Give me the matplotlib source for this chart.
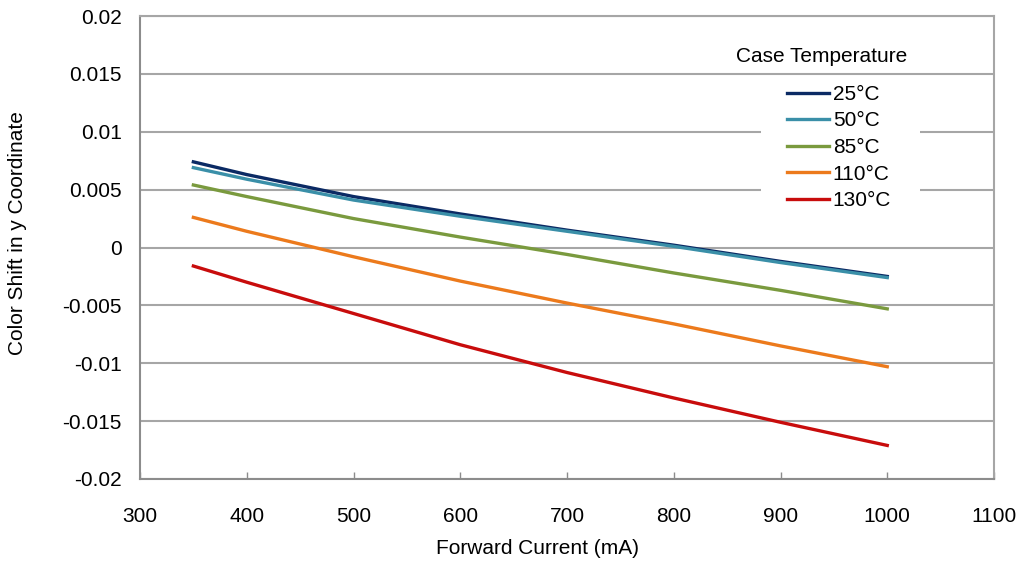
import matplotlib
matplotlib.use("Agg")
import matplotlib.pyplot as plt
from matplotlib.ticker import FixedLocator
from matplotlib.patches import Rectangle

plt.rcParams['font.family'] = ['Liberation Sans', 'DejaVu Sans']

current = [350, 400, 500, 600, 700, 800, 900, 1000]
shift_25 = [0.0074, 0.0063, 0.0044, 0.0029, 0.0015, 0.0002, -0.0012, -0.0025]
shift_50 = [0.0069, 0.0059, 0.0041, 0.0027, 0.0014, 0.0001, -0.0013, -0.0026]
shift_85 = [0.0054, 0.0044, 0.0025, 0.0009, -0.0006, -0.0022, -0.0037, -0.0053]
shift_110 = [0.0026, 0.0014, -0.0008, -0.0029, -0.0048, -0.0066, -0.0085, -0.0103]
shift_130 = [-0.0016, -0.0030, -0.0057, -0.0084, -0.0108, -0.0130, -0.0151, -0.0171]

labels = ['25°C', '50°C', '85°C', '110°C', '130°C']
colors = ['#0b2a64', '#3a8fa8', '#7a9a3e', '#ec7a1c', '#c80c0c']
series = [shift_25, shift_50, shift_85, shift_110, shift_130]

xticks = [300, 400, 500, 600, 700, 800, 900, 1000, 1100]
yticks = [0.02, 0.015, 0.01, 0.005, 0, -0.005, -0.01, -0.015, -0.02]
ytick_labels = ['0.02', '0.015', '0.01', '0.005', '0', '-0.005', '-0.01', '-0.015', '-0.02']

W, H = 1021, 563
fig = plt.figure(figsize=(W / 100, H / 100), dpi=100)
ax = fig.add_axes([140 / W, 1 - 479 / H, (994 - 140) / W, (479 - 16) / H])

for ys, lab, c in zip(series, labels, colors):
    ax.plot(current, ys, color=c, lw=2.4, label=lab, zorder=3)

ax.set_xlim(300, 1100)
ax.set_ylim(-0.02, 0.02)
ax.xaxis.set_major_locator(FixedLocator(xticks))
ax.set_xticklabels([str(v) for v in xticks])
ax.yaxis.set_major_locator(FixedLocator(yticks))
ax.set_yticklabels(ytick_labels)

ax.grid(axis='y', color='#a6a6a6', lw=1.5)
ax.set_axisbelow(True)
for s in ax.spines.values():
    s.set_color('#8c8c8c')
    s.set_linewidth(1.5)
ax.spines['top'].set_color('#a6a6a6')
ax.spines['right'].set_color('#a6a6a6')

ax.tick_params(axis='x', direction='in', length=5, width=1, color='#8c8c8c', pad=20, labelsize=15)
ax.tick_params(axis='y', length=0, pad=13, labelsize=15)

ax.set_xlabel('Forward Current (mA)', fontsize=15)
ax.set_ylabel('Color Shift in y Coordinate', fontsize=15)
ax.xaxis.label.set_va('center')
ax.yaxis.label.set_va('center')
ax.xaxis.set_label_coords((537 - 140) / 854, (479 - 549) / 463)
ax.yaxis.set_label_coords((18 - 140) / 854, (479 - 233) / 463)

# white backing of the legend area (breaks the gridlines like the original)
ax.add_patch(Rectangle((761 / W, 1 - 210 / H), (920 - 761) / W, (210 - 77) / H,
                       transform=fig.transFigure, facecolor='white', edgecolor='none', zorder=1))

fig.text(822 / W, 1 - 57 / H, 'Case Temperature', ha='center', va='center', fontsize=15)

leg = ax.legend(loc='upper left', bbox_to_anchor=(787 / W, 1 - 85 / H),
                bbox_transform=fig.transFigure, frameon=False, fontsize=15,
                handlelength=2.0, handletextpad=0.2, labelspacing=0.36,
                borderaxespad=0, borderpad=0)

fig.savefig('out.png', dpi=100)
